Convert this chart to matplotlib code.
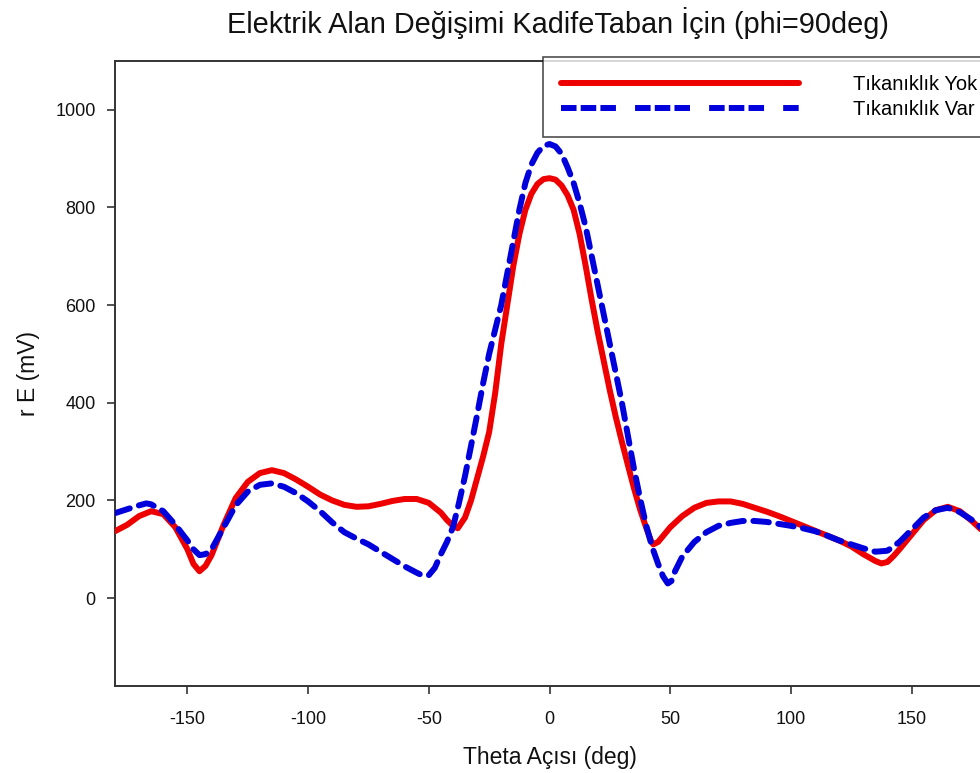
import matplotlib
matplotlib.use("Agg")
import matplotlib.pyplot as plt
from matplotlib.lines import Line2D

plt.rcParams['font.family'] = ['Liberation Sans', 'DejaVu Sans']
plt.rcParams['axes.unicode_minus'] = False

title = "Elektrik Alan Değişimi KadifeTaban İçin (phi=90deg)"
xlabel = "Theta Açısı (deg)"
ylabel = "r E (mV)"
series_names = ["Tıkanıklık Yok", "Tıkanıklık Var"]

theta_yok = [-180, -175, -170, -165, -160, -155, -150, -147.5, -145, -142.5, -140, -135, -130,
             -125, -120, -115, -110, -105, -100, -95, -90, -85, -80, -75, -70, -65, -60, -55,
             -50, -45, -42.5, -40, -38, -35, -32.5, -30, -27.5, -25, -22.5, -20, -17.5, -15,
             -12.5, -10, -7.5, -5, -2.5, 0, 2.5, 5, 7.5, 10, 12.5, 15, 17.5, 20, 22.5, 25,
             27.5, 30, 32.5, 35, 37.5, 40, 42, 43, 45, 47.5, 50, 55, 60, 65, 70, 75, 80, 85,
             90, 95, 100, 105, 110, 115, 120, 125, 130, 135, 137.5, 140, 142.5, 145, 150,
             155, 160, 165, 170, 175, 180]
e_yok = [137, 150, 168, 178, 172, 145, 100, 70, 55, 66, 88, 150, 205,
         238, 256, 262, 256, 243, 228, 212, 200, 191, 187, 188, 193, 199, 203, 203,
         195, 175, 160, 148, 143, 165, 200, 245, 290, 340, 420, 520, 600, 680,
         745, 795, 828, 848, 858, 860, 857, 845, 825, 795, 745, 680, 610, 545, 485, 425,
         370, 320, 272, 225, 182, 145, 118, 110, 115, 130, 145, 168, 185, 195, 198, 198, 193, 185,
         177, 168, 158, 148, 138, 128, 118, 106, 90, 76, 71, 74, 86, 100, 130,
         160, 180, 187, 178, 158, 135]

theta_var = [-180, -175, -170, -167, -165, -160, -155, -150, -147.5, -145, -142.5, -140, -135,
             -130, -125, -120, -115, -110, -105, -100, -95, -90, -85, -80, -75, -70, -65, -60,
             -55, -52.5, -50, -47.5, -45, -42.5, -40, -37.5, -35, -32.5, -30, -27.5, -25,
             -22.5, -20, -17.5, -15, -12.5, -10, -7.5, -5, -2.5, 0, 2.5, 5, 7.5, 10, 12.5,
             15, 17.5, 20, 22.5, 25, 27.5, 30, 32.5, 35, 37.5, 40, 42.5, 45, 47, 49, 50.5,
             52, 55, 60, 65, 70, 75, 80, 85, 90, 95, 100, 105, 110, 115, 120, 125, 130, 135,
             140, 145, 150, 155, 160, 165, 170, 175, 180]
e_var = [174, 182, 190, 194, 192, 178, 150, 118, 100, 88, 90, 100, 145,
         190, 218, 232, 235, 228, 215, 198, 178, 155, 135, 122, 110, 95, 80, 65,
         52, 46, 47, 62, 90, 115, 145, 195, 250, 312, 375, 440, 500,
         550, 600, 665, 730, 795, 850, 888, 912, 926, 930, 925, 910, 882, 850, 808,
         760, 700, 640, 580, 520, 460, 400, 332, 265, 205, 150, 105, 70, 45, 30, 35,
         55, 85, 115, 135, 148, 154, 158, 158, 156, 152, 148, 143, 137, 128, 118, 110, 102, 95,
         97, 115, 140, 165, 180, 185, 176, 160, 140]

xticks = [-150, -100, -50, 0, 50, 100, 150]
yticks = [0, 200, 400, 600, 800, 1000]

fig = plt.figure(figsize=(9.8, 7.73), dpi=100)
ax = fig.add_axes([115/980, 87/773, 869/980, 625/773])

ax.plot(theta_yok, e_yok, color='#ee0000', lw=4.3, solid_capstyle='round',
        solid_joinstyle='round', zorder=3)
ax.plot(theta_var, e_var, color='#0000dd', lw=4.3, linestyle=(0, (2.6, 1.6)),
        dash_capstyle='round', zorder=4)

ax.set_xlim(-180, 180)
ax.set_ylim(-180, 1100)
ax.set_xticks(xticks)
ax.set_yticks(yticks)
ax.tick_params(direction='out', length=6, width=1.2, color='#333333',
               labelsize=13, labelcolor='#111111')
ax.tick_params(axis='x', pad=12)
ax.tick_params(axis='y', pad=8)
for s in ['left', 'bottom', 'top', 'right']:
    ax.spines[s].set_color('#333333')
    ax.spines[s].set_linewidth(1.4)

ax.set_xlabel(xlabel, fontsize=16.5, color='#111111', labelpad=13)
ax.set_ylabel(ylabel, fontsize=16.5, color='#111111', labelpad=11)
fig.text(558/980, 1 - 23/773, title, fontsize=20.8, ha='center', va='center', color='#111111')

handles = [Line2D([], [], color='#ee0000', lw=4.3, solid_capstyle='round'),
           Line2D([], [], color='#0000dd', lw=4.3,
                  linestyle=(0, (2.6, 0.7, 2.6, 0.7, 2.6, 3.2)), dash_capstyle='butt')]
leg = fig.legend(handles, series_names, loc='upper left',
                 bbox_to_anchor=(543/980, 1 - 57/773), frameon=True, fancybox=False,
                 edgecolor='#222222', fontsize=14.5, handlelength=11.8, handletextpad=2.7,
                 borderpad=0.9, labelspacing=0.3, borderaxespad=0)
leg.get_frame().set_linewidth(1.2)
leg.set_zorder(10)

fig.savefig("out.png", dpi=100)
